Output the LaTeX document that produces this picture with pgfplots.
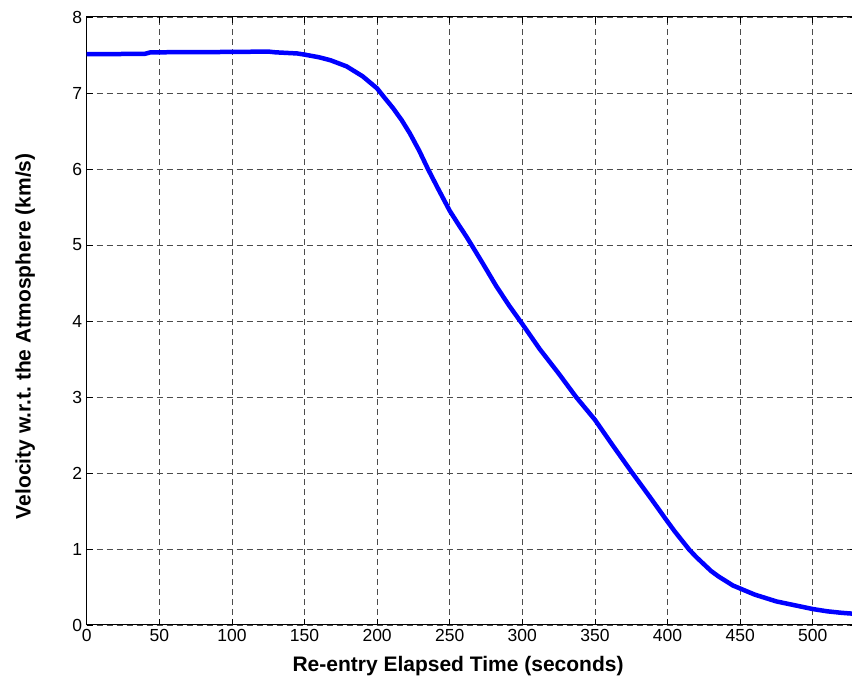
\documentclass[border=0pt]{standalone}
\usepackage{fontspec}
\setmainfont{Liberation Sans}
\usepackage{pgfplots}
\pgfplotsset{compat=1.18}
\frenchspacing
\begin{document}
\begin{tikzpicture}[x=1bp,y=1bp]
\useasboundingbox (0,0) rectangle (852,686);
\begin{axis}[
  at={(86.7bp,61bp)}, anchor=south west,
  width=769.6bp, height=608bp, scale only axis,
  xmin=0, xmax=530, ymin=0, ymax=8,
  xtick={0,50,...,500}, ytick={0,1,...,8},
  grid=major,
  grid style={dash pattern=on 6bp off 4bp, black!70, line width=0.7bp},
  axis line style={black, line width=1bp},
  tick style={black, line width=0.7bp},
  tick align=inside, major tick length=6bp,
  /pgf/number format/assume math mode=true,
  ticklabel style={font=\fontsize{17.5bp}{19bp}\selectfont},
  xticklabel style={yshift=-1bp},
  yticklabel style={xshift=-1bp},
  xlabel={\textbf{Re-entry Elapsed Time (seconds)}},
  ylabel={\textbf{Velocity w.r.t.\ the Atmosphere (km/s)}},
  label style={font=\fontsize{21bp}{24bp}\selectfont},
  xlabel style={at={(axis description cs:0.4825,-0.068)}, anchor=center},
  ylabel style={at={(axis description cs:-0.080,0.475)}, anchor=center},
]
\addplot[blue, line width=4.5bp, line join=round, line cap=butt] coordinates {
(0,7.51) (40,7.515) (44,7.535) (100,7.54) (125,7.545) (130,7.535) (145,7.52)
(150,7.505) (160,7.47) (168,7.43) (179,7.35) (190,7.22) (200,7.06) (205,6.94)
(211,6.80) (217,6.64) (222.5,6.47) (229,6.24) (235,6.00) (242,5.74) (250,5.45)
(256,5.27) (261.5,5.11) (266,4.97) (273,4.75) (282,4.46) (291,4.20) (300,3.96)
(312,3.63) (325,3.31) (337,3.00) (350,2.70) (362,2.37) (375,2.02) (388,1.68)
(400,1.36) (405,1.23) (410,1.11) (415,0.99) (420,0.89) (425,0.80) (430,0.71)
(435,0.64) (440,0.58) (445,0.52) (450,0.48) (455,0.44) (460,0.40) (465,0.37)
(470,0.34) (475,0.31) (480,0.29) (490,0.25) (500,0.21) (510,0.18) (520,0.16)
(527,0.15)
};
\end{axis}
\end{tikzpicture}
\end{document}
